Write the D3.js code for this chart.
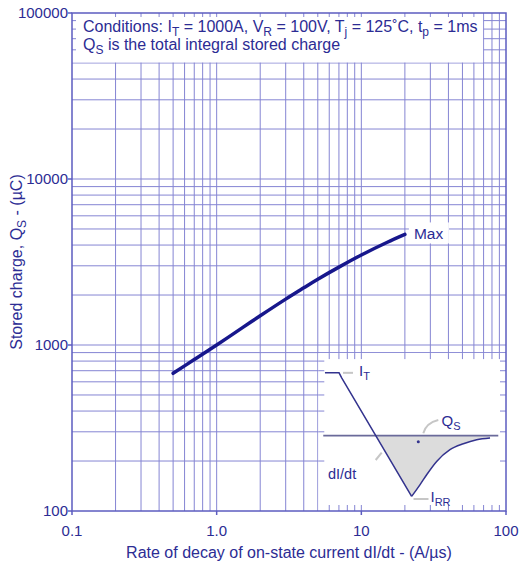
<!DOCTYPE html>
<html><head><meta charset="utf-8">
<script src="https://cdn.jsdelivr.net/npm/d3@7"></script>
<style>
html,body{margin:0;padding:0;background:#fff;}
svg{display:block;font-family:"Liberation Sans",Arial,Helvetica,sans-serif;}
</style></head>
<body>
<svg id="c" width="521" height="566"></svg>
<script>
// ---- data ----
const xTickValues = [0.1, 1, 10, 100];
const xTickLabels = ["0.1", "1.0", "10", "100"];
const yTickValues = [100, 1000, 10000, 100000];
const yTickLabels = ["100", "1000", "10000", "100000"];
const didt = [0.5, 0.7, 1, 1.5, 2, 3, 4, 5, 7, 10, 15, 20];          // A/µs
const qsMax = [675, 817, 1000, 1268, 1500, 1890, 2210, 2490, 2945, 3485, 4145, 4635]; // µC
const seriesLabel = "Max";
// inset schematic (time, current) in arbitrary units
const insetFall = [[3.7, 1], [11.2, 1], [12.6, 0.92], [49.8, -0.968]];
const insetRecovery = [[49.8, -0.968], [54.3, -0.78], [57.8, -0.622], [63.1, -0.41], [70.2, -0.223], [77.3, -0.128], [84.4, -0.064], [91.5, -0.037]];
const insetCross = [30.7, 0];
const insetBase = [[2.8, 0], [95.9, 0]];

// ---- setup ----
const L = 72, R = 506, T = 13, B = 511;
const svg = d3.select("#c");
const x = d3.scaleLog().domain([0.1, 100]).range([L, R]);
const y = d3.scaleLog().domain([100, 100000]).range([B, T]);

const gridCol = "#8585d3", axisCol = "#5c5cc0", textCol = "#2c2c94", curveCol = "#17178c";

const xGrid = [], yGrid = [];
[0.1, 1, 10].forEach(d => { for (let k = 1; k <= 9; k++) xGrid.push(d * k); });
[100, 1000, 10000].forEach(d => { for (let k = 1; k <= 9; k++) yGrid.push(d * k); });

const g = svg.append("g");
g.selectAll(".vg").data(xGrid.filter(v => v > 0.1)).join("line")
  .attr("x1", d => x(d)).attr("x2", d => x(d)).attr("y1", T).attr("y2", B)
  .attr("stroke", gridCol).attr("stroke-width", 1);
g.selectAll(".hg").data(yGrid.filter(v => v > 100)).join("line")
  .attr("y1", d => y(d)).attr("y2", d => y(d)).attr("x1", L).attr("x2", R)
  .attr("stroke", gridCol).attr("stroke-width", 1);

function whiteBox(x0, y0, x1, y1, sides, len) {
  g.append("rect").attr("x", x0).attr("y", y0).attr("width", x1 - x0).attr("height", y1 - y0).attr("fill", "#fff");
  const vx = xGrid.filter(v => x(v) > x0 + 1 && x(v) < x1 - 1);
  const hy = yGrid.filter(v => y(v) > y0 + 1 && y(v) < y1 - 1);
  if (sides.includes("t")) vx.forEach(v => g.append("line").attr("x1", x(v)).attr("x2", x(v)).attr("y1", y0).attr("y2", y0 + len).attr("stroke", gridCol));
  if (sides.includes("b")) vx.forEach(v => g.append("line").attr("x1", x(v)).attr("x2", x(v)).attr("y1", y1).attr("y2", y1 - len).attr("stroke", gridCol));
  if (sides.includes("l")) hy.forEach(v => g.append("line").attr("y1", y(v)).attr("y2", y(v)).attr("x1", x0).attr("x2", x0 + len).attr("stroke", gridCol));
  if (sides.includes("r")) hy.forEach(v => g.append("line").attr("y1", y(v)).attr("y2", y(v)).attr("x1", x1).attr("x2", x1 - len).attr("stroke", gridCol));
}
whiteBox(L, T, x(70) - 0.5, y(50000) - 0.5, "tl", 4);
whiteBox(x(5) + 0.5, y(900) + 0.5, R, B, "tlbr", 6);

g.append("rect").attr("x", L).attr("y", T).attr("width", R - L).attr("height", B - T)
  .attr("fill", "none").attr("stroke", axisCol).attr("stroke-width", 1.5);

g.selectAll(".yt").data(yTickValues).join("line")
  .attr("x1", L - 4).attr("x2", L).attr("y1", d => y(d)).attr("y2", d => y(d)).attr("stroke", axisCol).attr("stroke-width", 1.5);
g.selectAll(".xt").data(xTickValues).join("line")
  .attr("x1", d => x(d)).attr("x2", d => x(d)).attr("y1", B).attr("y2", B + 4).attr("stroke", axisCol).attr("stroke-width", 1.5);

g.selectAll(".yl").data(yTickValues).join("text")
  .attr("x", L - 4).attr("y", d => y(d) + 5.3).attr("text-anchor", "end")
  .attr("font-size", 15).attr("fill", textCol).text((d, i) => yTickLabels[i]);
g.selectAll(".xl").data(xTickValues).join("text")
  .attr("x", d => x(d)).attr("y", 536).attr("text-anchor", "middle")
  .attr("font-size", 15).attr("fill", textCol).text((d, i) => xTickLabels[i]);

// rich text: strings normal, {s} subscripts
function rich(sel, parts, sub) {
  let pending = 0;
  parts.forEach(p => {
    if (typeof p === "string") {
      const t = sel.append("tspan").text(p);
      if (pending) t.attr("dy", pending);
      pending = 0;
    } else {
      sel.append("tspan").attr("dy", sub.dy).attr("font-size", sub.fs).text(p.s);
      pending = -sub.dy;
    }
  });
}

g.append("text").attr("x", 289).attr("y", 558).attr("text-anchor", "middle")
  .attr("font-size", 16).attr("fill", textCol).text("Rate of decay of on-state current dI/dt - (A/\u00B5s)");
const yt = g.append("text").attr("transform", "translate(21.5,262) rotate(-90)").attr("text-anchor", "middle")
  .attr("font-size", 16).attr("fill", textCol);
rich(yt, ["Stored charge, Q", {s: "S"}, " - (\u00B5C)"], {dy: 4, fs: 12});

const c1 = g.append("text").attr("x", 83).attr("y", 32).attr("font-size", 16).attr("fill", textCol);
rich(c1, ["Conditions: I", {s: "T"}, " = 1000A, V", {s: "R"}, " = 100V, T", {s: "j"}, " = 125\u02DAC, t", {s: "p"}, " = 1ms"], {dy: 3.5, fs: 12});
const c2 = g.append("text").attr("x", 83).attr("y", 50).attr("font-size", 16).attr("fill", textCol);
rich(c2, ["Q", {s: "S"}, " is the total integral stored charge"], {dy: 3.5, fs: 12});

// curve
const pts = didt.map((d, i) => [x(d), y(qsMax[i])]);
g.append("path").attr("d", d3.line().curve(d3.curveCatmullRom)(pts))
  .attr("fill", "none").attr("stroke", curveCol).attr("stroke-width", 3.5).attr("stroke-linecap", "round");

const last = pts[pts.length - 1];
g.append("rect").attr("x", last[0] + 4).attr("y", last[1] - 12).attr("width", 40).attr("height", 21).attr("fill", "#fff");
g.append("text").attr("x", last[0] + 9).attr("y", last[1] + 4.5).attr("font-size", 15.5).attr("fill", textCol).text(seriesLabel);

// ---- inset ----
const xi = d3.scaleLinear().domain([0, 100]).range([318, 506]);
const yi = d3.scaleLinear().domain([-1.2, 1.3]).range([511, 354]);
const lin = d3.line().x(d => xi(d[0])).y(d => yi(d[1]));
const recPath = d3.line().x(d => xi(d[0])).y(d => yi(d[1])).curve(d3.curveMonotoneX)(insetRecovery);
const lastRec = insetRecovery[insetRecovery.length - 1];
const areaD = "M" + xi(insetCross[0]) + "," + yi(0) + "L" + recPath.slice(1) + "L" + xi(lastRec[0]) + "," + yi(0) + "Z";
g.append("path").attr("d", areaD).attr("fill", "#dcdcdc");
g.append("path").attr("d", lin(insetBase)).attr("stroke", "#6a6a9a").attr("stroke-width", 1.6).attr("fill", "none");
g.append("path").attr("d", lin(insetFall)).attr("stroke", "#33338e").attr("stroke-width", 1.5).attr("fill", "none");
g.append("path").attr("d", recPath).attr("stroke", "#33338e").attr("stroke-width", 1.5).attr("fill", "none");

const leadCol = "#c6c6c6";
g.append("line").attr("x1", 343).attr("x2", 353).attr("y1", yi(1)).attr("y2", yi(1)).attr("stroke", leadCol).attr("stroke-width", 2);
g.append("line").attr("x1", 413.5).attr("x2", 428.5).attr("y1", 499).attr("y2", 499).attr("stroke", leadCol).attr("stroke-width", 2);
g.append("line").attr("x1", 375.7).attr("x2", 381.7).attr("y1", 460).attr("y2", 452.7).attr("stroke", leadCol).attr("stroke-width", 2);
g.append("path").attr("d", "M438.3,420 Q426,423 423.3,433.3").attr("stroke", leadCol).attr("stroke-width", 2).attr("fill", "none");
g.append("circle").attr("cx", 418.3).attr("cy", 441.7).attr("r", 1.5).attr("fill", "#33338e");

const it = g.append("text").attr("x", 359).attr("y", 376).attr("font-size", 15).attr("fill", textCol);
rich(it, ["I", {s: "T"}], {dy: 4, fs: 11});
const qs = g.append("text").attr("x", 441.5).attr("y", 426).attr("font-size", 15).attr("fill", textCol);
rich(qs, ["Q", {s: "S"}], {dy: 4, fs: 11});
g.append("text").attr("x", 328).attr("y", 478.5).attr("font-size", 14.5).attr("fill", textCol).text("dI/dt");
const irr = g.append("text").attr("x", 430.5).attr("y", 502).attr("font-size", 15).attr("fill", textCol);
rich(irr, ["I", {s: "RR"}], {dy: 4, fs: 11});
</script>
</body></html>
